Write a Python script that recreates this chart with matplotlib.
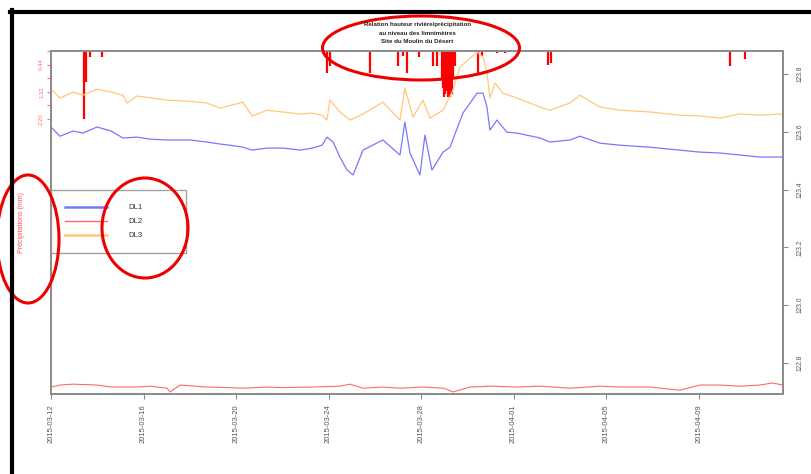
import numpy as np
import pandas as pd
import matplotlib
matplotlib.use("Agg")
import matplotlib.pyplot as plt
import matplotlib.dates as mdates
from matplotlib.patches import Ellipse
from matplotlib.lines import Line2D

plt.rcParams['font.family'] = ['Liberation Sans', 'DejaVu Sans']

start = pd.Timestamp('2015-03-12')

# water levels (m), time given in days since 2015-03-12
dl1_days = [0.00, 0.39, 0.95, 1.38, 1.99, 2.60, 3.11, 3.72, 4.28, 5.02, 6.01, 6.74,
            7.31, 7.74, 8.30, 8.69, 9.34, 10.03, 10.77, 11.30, 11.72, 11.93, 12.20,
            12.49, 12.80, 13.06, 13.49, 14.35, 15.09, 15.30, 15.52, 15.95, 16.17,
            16.47, 16.95, 17.25, 17.81, 18.12, 18.42, 18.68, 18.85, 18.98, 19.28,
            19.71, 20.15, 21.14, 21.57, 22.44, 22.87, 23.74, 24.60, 25.90, 27.19,
            28.06, 28.92, 29.79, 30.65, 31.65]
dl1 = [123.617, 123.585, 123.603, 123.596, 123.617, 123.603, 123.579, 123.582, 123.575,
       123.572, 123.572, 123.565, 123.558, 123.554, 123.547, 123.537, 123.544, 123.544,
       123.537, 123.544, 123.554, 123.582, 123.565, 123.513, 123.468, 123.451, 123.537,
       123.572, 123.520, 123.634, 123.527, 123.451, 123.589, 123.468, 123.530, 123.547,
       123.665, 123.700, 123.734, 123.734, 123.686, 123.606, 123.641, 123.599, 123.596,
       123.579, 123.565, 123.572, 123.585, 123.561, 123.554, 123.547, 123.537, 123.530,
       123.527, 123.520, 123.513, 123.513]

dl3_days = [0.00, 0.39, 0.95, 1.38, 1.99, 2.60, 3.11, 3.29, 3.72, 5.02, 6.01, 6.74,
            7.31, 8.30, 8.69, 9.34, 10.03, 10.77, 11.30, 11.72, 11.93, 12.06, 12.49,
            12.93, 13.49, 14.35, 15.09, 15.30, 15.65, 16.08, 16.39, 16.95, 17.38,
            17.68, 18.42, 18.68, 18.85, 18.98, 19.20, 19.54, 20.15, 21.14, 21.57,
            22.44, 22.87, 23.74, 24.60, 25.90, 27.19, 28.06, 28.92, 29.79, 30.65, 31.65]
dl3 = [123.748, 123.717, 123.738, 123.727, 123.748, 123.738, 123.727, 123.700, 123.724,
       123.710, 123.706, 123.700, 123.682, 123.703, 123.655, 123.675, 123.669, 123.662,
       123.665, 123.658, 123.641, 123.710, 123.669, 123.641, 123.662, 123.703, 123.641,
       123.752, 123.651, 123.710, 123.648, 123.675, 123.745, 123.824, 123.876, 123.859,
       123.803, 123.717, 123.769, 123.734, 123.717, 123.686, 123.675, 123.700, 123.727,
       123.686, 123.675, 123.669, 123.658, 123.655, 123.648, 123.662, 123.658, 123.662]

dl2_days = [0.00, 0.39, 0.95, 1.99, 2.60, 3.72, 4.28, 5.02, 5.15, 5.58, 6.74, 7.74,
            8.30, 9.34, 10.03, 11.30, 12.49, 12.93, 13.49, 14.35, 15.09, 16.08, 17.00,
            17.38, 18.12, 19.07, 20.15, 21.14, 22.44, 23.74, 24.60, 25.90, 27.19,
            28.06, 28.92, 29.79, 30.65, 31.20, 31.65]
dl2 = [122.717, 122.724, 122.727, 122.724, 122.717, 122.717, 122.720, 122.713, 122.700,
       122.724, 122.717, 122.715, 122.713, 122.717, 122.715, 122.717, 122.720, 122.727,
       122.713, 122.717, 122.713, 122.717, 122.713, 122.700, 122.717, 122.720, 122.717,
       122.720, 122.713, 122.720, 122.717, 122.717, 122.706, 122.724, 122.724, 122.720,
       122.724, 122.731, 122.724]

# rainfall (mm)
rain_days = [1.43, 1.51, 1.69, 2.20, 11.93, 12.06, 13.79, 15.00, 15.22, 15.39, 15.91,
             16.52, 16.69, 16.90, 16.95, 17.00, 17.05, 17.10, 17.15, 17.20, 17.25,
             17.30, 17.35, 17.40, 17.45, 18.46, 18.63, 19.28, 19.63, 21.49, 21.62,
             29.36, 30.00]
rain = [2.2, 1.0, 0.2, 0.2, 0.7, 0.5, 0.7, 0.5, 0.15, 0.7, 0.2,
        0.5, 0.5, 0.9, 1.2, 1.5, 1.4, 1.3, 1.5, 1.2, 1.5,
        1.1, 1.4, 0.9, 0.5, 0.7, 0.15, 0.08, 0.08, 0.45, 0.4,
        0.5, 0.25]

rain_ticks = [0, 0.44, 0.88, 1.32, 1.76, 2.20]
rain_labels = ['', '0.44', '', '1.32', '', '2.20']
level_ticks = [122.8, 123.0, 123.2, 123.4, 123.6, 123.8]
date_ticks = ['2015-03-12', '2015-03-16', '2015-03-20', '2015-03-24',
              '2015-03-28', '2015-04-01', '2015-04-05', '2015-04-09']


def to_dates(days):
    return start + pd.to_timedelta(np.array(days), unit='D')


fig = plt.figure(figsize=(8.12, 4.74), dpi=100, facecolor='white')
axp = fig.add_axes([0.0628, 0.1688, 0.9015, 0.7236])
ax = axp.twinx()

grey = '#8c8c8c'

# precipitation bars hanging from the top
axp.vlines(to_dates(rain_days), 0, rain, color='#ff0000', lw=1.6)
axp.set_ylim(11.1, 0)
axp.set_yticks(rain_ticks)
axp.set_yticklabels(rain_labels, rotation=90, va='center', fontsize=4.3,
                    color='#ff7070')
axp.tick_params(axis='y', colors='#ff7070', length=3, width=0.8, pad=2)
axp.set_ylabel('Précipitations (mm)', color='#ff5050', fontsize=5, labelpad=10)

ax.plot(to_dates(dl1_days), dl1, color='#7878ff', lw=0.9, label='DL1')
ax.plot(to_dates(dl2_days), dl2, color='#ff6a6a', lw=0.8, label='DL2')
ax.plot(to_dates(dl3_days), dl3, color='#ffc878', lw=0.9, label='DL3')
ax.set_ylim(122.693, 123.880)
ax.set_yticks(level_ticks)
ax.set_yticklabels([f'{v:.1f}' for v in level_ticks], rotation=90, va='center',
                   fontsize=4.8, color='#555555')
ax.tick_params(axis='y', colors=grey, labelcolor='#555555', length=3.5,
               width=0.8, pad=6)

ax.set_xlim(start, start + pd.Timedelta(days=31.65))
ax.tick_params(axis='x', bottom=False, labelbottom=False)
axp.set_xticks(pd.to_datetime(date_ticks))
axp.xaxis.set_major_formatter(mdates.DateFormatter('%Y-%m-%d'))
axp.tick_params(axis='x', colors=grey, labelcolor='#555555', length=3.5,
                width=0.8, labelsize=5.5, labelrotation=90, pad=4)

for a in (ax, axp):
    for sp in a.spines.values():
        sp.set_color(grey)
        sp.set_linewidth(1.3)

leg = ax.legend(loc='upper left', bbox_to_anchor=(0.0, 0.595, 0.185, 0.0),
                mode='expand', fontsize=5.6, frameon=True, fancybox=False,
                borderaxespad=0, borderpad=1.8, handlelength=5.4,
                handletextpad=2.8, labelspacing=0.85)
leg.get_frame().set_edgecolor(grey)
leg.get_frame().set_linewidth(1.0)
for t in leg.get_texts():
    t.set_color('#333333')
for h in leg.get_lines():
    h.set_linewidth(1.8 if h.get_label() != 'DL2' else 1.0)

fig.text(0.514, 0.953, 'Relation hauteur rivière/précipitation\n'
         'au niveau des limnimètres\nSite du Moulin du Désert',
         ha='center', va='top', fontsize=4.4, fontweight='bold',
         linespacing=1.85, color='#222222')

# screenshot border and hand-drawn highlights
fig.add_artist(Line2D([12 / 812, 12 / 812], [0, 1 - 10 / 474], color='black',
                      lw=3, transform=fig.transFigure))
fig.add_artist(Line2D([10 / 812, 1], [1 - 12 / 474, 1 - 12 / 474], color='black',
                      lw=3, transform=fig.transFigure))
for cx, cy, w, h in [(421, 48, 197, 64), (28, 239, 62, 128), (145, 228, 86, 100)]:
    fig.add_artist(Ellipse((cx / 812, 1 - cy / 474), w / 812, h / 474,
                           transform=fig.transFigure, fill=False,
                           edgecolor='#ee0000', lw=2.2))

fig.savefig('out.png', dpi=100)
